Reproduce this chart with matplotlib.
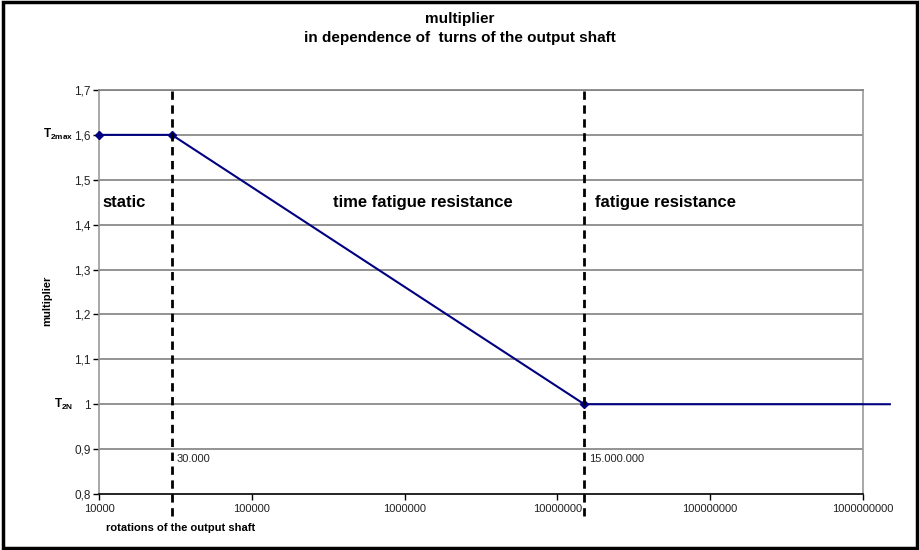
import matplotlib
matplotlib.use('Agg')
from matplotlib import pyplot as plt
from matplotlib.patches import Rectangle
import numpy as np

plt.rcParams['font.family'] = ['Liberation Sans', 'DejaVu Sans']
plt.rcParams['mathtext.fontset'] = 'custom'
plt.rcParams['mathtext.rm'] = 'Liberation Sans'
plt.rcParams['mathtext.bf'] = 'Liberation Sans:bold'

# curve points
rotations = [10000, 30000, 15000000, 1500000000]
multiplier = [1.6, 1.6, 1.0, 1.0]
# boundaries between regions
limits = [30000, 15000000]
limit_labels = ['30.000', '15.000.000']
regions = ['static', 'time fatigue resistance', 'fatigue resistance']
region_x = [10600, 338000, 17500000]
yticks = [0.8, 0.9, 1.0, 1.1, 1.2, 1.3, 1.4, 1.5, 1.6, 1.7]
xticks = [1e4, 1e5, 1e6, 1e7, 1e8, 1e9]
xticklabels = ['10000', '100000', '1000000', '10000000', '100000000', '1000000000']

fig = plt.figure(figsize=(9.2, 5.5), dpi=100)
ax = fig.add_axes([0.1076, 0.1018, 0.8304, 0.7346])

ax.set_xscale('log')
ax.set_xlim(1e4, 1e9)
ax.set_ylim(0.8, 1.7)

for y in yticks[1:]:
    ax.axhline(y, color='#808080', lw=1.2, zorder=1)

ax.plot(rotations, multiplier, color='#000080', lw=1.5, zorder=4, clip_on=False)
ax.plot(rotations[:3], multiplier[:3], linestyle='none', marker='D', ms=4,
        color='#000080', zorder=5, clip_on=False)

for x, lab in zip(limits, limit_labels):
    ax.plot([x, x], [0.75, 1.7], color='black', lw=2, ls=(0, (3, 2)), zorder=6,
            clip_on=False)
    ax.text(x * 1.08, 0.878, lab, fontsize=8, color='#222222', va='center')

for x, lab in zip(region_x, regions):
    ax.text(x, 1.45, lab, fontsize=12, fontweight='bold', va='center')

ax.set_yticks(yticks)
ax.set_yticklabels([('%.1f' % v).replace('.', ',') if v != 1.0 else '1' for v in yticks])
ax.set_xticks(xticks)
ax.set_xticklabels(xticklabels)
ax.minorticks_off()
ax.tick_params(labelsize=8, length=4, width=1, colors='black', labelcolor='#222222')
ax.tick_params(axis='y', labelsize=8.5, pad=2)

for s in ['left', 'right', 'top']:
    ax.spines[s].set_color('#999999')
    ax.spines[s].set_linewidth(1.2)
ax.spines['top'].set_color('#808080')
ax.spines['bottom'].set_color('black')
ax.spines['bottom'].set_linewidth(1.2)

# T labels next to the y axis
ax.text(-0.034, 1.6, r'$\mathbf{T}_{\mathbf{2max}}$', transform=ax.get_yaxis_transform(),
        fontsize=8.5, ha='right', va='center')
ax.text(-0.034, 1.0, r'$\mathbf{T}_{\mathbf{2N}}$', transform=ax.get_yaxis_transform(),
        fontsize=8.5, ha='right', va='center')

fig.text(0.051, 0.453, 'multiplier', rotation=90, fontsize=8, fontweight='bold',
         ha='center', va='center')
fig.text(0.115, 0.04, 'rotations of the output shaft', fontsize=8, fontweight='bold',
         ha='left', va='center')

fig.text(0.5, 0.966, 'multiplier', fontsize=11, fontweight='bold', ha='center', va='center')
fig.text(0.5, 0.931, 'in dependence of  turns of the output shaft', fontsize=11,
         fontweight='bold', ha='center', va='center')

fig.patches.append(Rectangle((0.003, 0.003), 0.994, 0.994, transform=fig.transFigure,
                             fill=False, edgecolor='black', lw=2.5))

plt.savefig('out.png', dpi=100)
